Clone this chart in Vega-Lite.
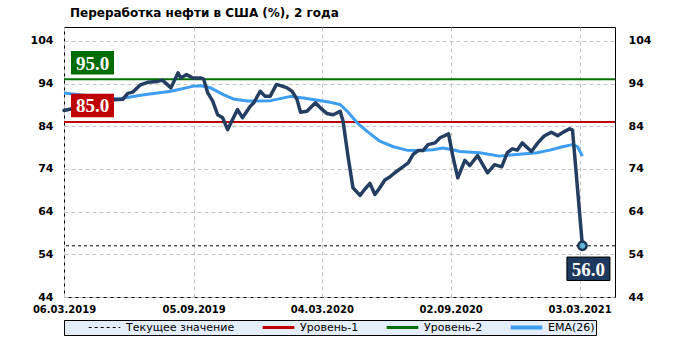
{
  "$schema": "https://vega.github.io/schema/vega-lite/v6.json",
  "width": 551,
  "height": 270,
  "autosize": {"type": "none"},
  "padding": {"left": 64, "top": 27, "right": 67, "bottom": 44},
  "background": "white",
  "title": {
    "text": "Переработка нефти в США (%), 2 года",
    "anchor": "start",
    "frame": "group",
    "dx": 6,
    "offset": 7,
    "font": "DejaVu Sans",
    "fontSize": 12,
    "fontWeight": "bold",
    "color": "black"
  },
  "datasets": {
    "main": [
      {"date": "2019-03-06", "value": 87.7},
      {"date": "2019-05-15", "value": 90.2},
      {"date": "2019-05-28", "value": 90.3},
      {"date": "2019-06-04", "value": 91.7},
      {"date": "2019-06-11", "value": 92.0},
      {"date": "2019-06-22", "value": 93.7},
      {"date": "2019-07-02", "value": 94.3},
      {"date": "2019-07-16", "value": 94.5},
      {"date": "2019-07-23", "value": 94.8},
      {"date": "2019-08-04", "value": 93.0},
      {"date": "2019-08-14", "value": 96.5},
      {"date": "2019-08-18", "value": 95.3},
      {"date": "2019-08-26", "value": 96.1},
      {"date": "2019-09-04", "value": 95.3},
      {"date": "2019-09-15", "value": 95.3},
      {"date": "2019-09-19", "value": 95.1},
      {"date": "2019-09-25", "value": 91.8},
      {"date": "2019-10-02", "value": 89.9},
      {"date": "2019-10-09", "value": 86.7},
      {"date": "2019-10-16", "value": 86.0},
      {"date": "2019-10-23", "value": 83.2},
      {"date": "2019-10-30", "value": 85.6},
      {"date": "2019-11-06", "value": 87.9},
      {"date": "2019-11-13", "value": 86.0},
      {"date": "2019-11-24", "value": 88.7},
      {"date": "2019-11-29", "value": 89.5},
      {"date": "2019-12-08", "value": 92.2},
      {"date": "2019-12-15", "value": 91.0},
      {"date": "2019-12-22", "value": 91.0},
      {"date": "2019-12-31", "value": 93.8},
      {"date": "2020-01-08", "value": 93.4},
      {"date": "2020-01-15", "value": 93.0},
      {"date": "2020-01-22", "value": 92.2},
      {"date": "2020-01-29", "value": 90.3},
      {"date": "2020-02-03", "value": 87.3},
      {"date": "2020-02-12", "value": 87.5},
      {"date": "2020-02-24", "value": 89.5},
      {"date": "2020-03-04", "value": 88.0},
      {"date": "2020-03-11", "value": 87.0},
      {"date": "2020-03-20", "value": 86.7},
      {"date": "2020-03-30", "value": 87.5},
      {"date": "2020-04-03", "value": 85.2},
      {"date": "2020-04-10", "value": 77.0},
      {"date": "2020-04-17", "value": 69.6},
      {"date": "2020-04-27", "value": 67.8},
      {"date": "2020-05-04", "value": 69.3},
      {"date": "2020-05-11", "value": 70.6},
      {"date": "2020-05-18", "value": 68.0},
      {"date": "2020-05-25", "value": 69.6},
      {"date": "2020-06-01", "value": 71.4},
      {"date": "2020-06-08", "value": 72.1},
      {"date": "2020-06-15", "value": 73.1},
      {"date": "2020-06-25", "value": 74.3},
      {"date": "2020-07-04", "value": 75.4},
      {"date": "2020-07-11", "value": 77.4},
      {"date": "2020-07-18", "value": 78.3},
      {"date": "2020-07-25", "value": 78.3},
      {"date": "2020-08-01", "value": 79.7},
      {"date": "2020-08-11", "value": 80.1},
      {"date": "2020-08-18", "value": 81.3},
      {"date": "2020-08-30", "value": 82.2},
      {"date": "2020-09-05", "value": 77.0},
      {"date": "2020-09-12", "value": 71.9},
      {"date": "2020-09-22", "value": 76.0},
      {"date": "2020-09-29", "value": 74.8},
      {"date": "2020-10-10", "value": 77.1},
      {"date": "2020-10-24", "value": 73.1},
      {"date": "2020-11-03", "value": 75.0},
      {"date": "2020-11-13", "value": 74.5},
      {"date": "2020-11-21", "value": 77.8},
      {"date": "2020-11-28", "value": 78.7},
      {"date": "2020-12-05", "value": 78.4},
      {"date": "2020-12-12", "value": 80.1},
      {"date": "2020-12-25", "value": 78.1},
      {"date": "2021-01-03", "value": 80.1},
      {"date": "2021-01-12", "value": 81.7},
      {"date": "2021-01-22", "value": 82.6},
      {"date": "2021-01-31", "value": 81.8},
      {"date": "2021-02-10", "value": 82.8},
      {"date": "2021-02-17", "value": 83.4},
      {"date": "2021-02-21", "value": 83.1},
      {"date": "2021-03-07", "value": 56.0}
    ],
    "ema": [
      {"date": "2019-03-06", "value": 91.8},
      {"date": "2019-05-21", "value": 90.4},
      {"date": "2019-06-27", "value": 91.4},
      {"date": "2019-08-04", "value": 92.2},
      {"date": "2019-09-05", "value": 93.4},
      {"date": "2019-09-15", "value": 93.5},
      {"date": "2019-09-29", "value": 93.0},
      {"date": "2019-10-17", "value": 91.4},
      {"date": "2019-10-31", "value": 90.4},
      {"date": "2019-11-20", "value": 89.9},
      {"date": "2019-12-23", "value": 90.0},
      {"date": "2020-01-20", "value": 91.0},
      {"date": "2020-02-07", "value": 90.6},
      {"date": "2020-02-27", "value": 90.1},
      {"date": "2020-03-16", "value": 89.6},
      {"date": "2020-03-30", "value": 89.1},
      {"date": "2020-04-09", "value": 87.5},
      {"date": "2020-04-23", "value": 84.8},
      {"date": "2020-05-07", "value": 82.8},
      {"date": "2020-05-25", "value": 80.5},
      {"date": "2020-06-13", "value": 79.2},
      {"date": "2020-07-02", "value": 78.4},
      {"date": "2020-07-21", "value": 78.3},
      {"date": "2020-08-08", "value": 78.5},
      {"date": "2020-08-22", "value": 78.9},
      {"date": "2020-09-05", "value": 78.5},
      {"date": "2020-09-15", "value": 78.1},
      {"date": "2020-10-13", "value": 77.8},
      {"date": "2020-11-10", "value": 77.0},
      {"date": "2020-12-04", "value": 77.4},
      {"date": "2021-01-02", "value": 77.8},
      {"date": "2021-01-20", "value": 78.4},
      {"date": "2021-02-07", "value": 79.2},
      {"date": "2021-02-21", "value": 79.7},
      {"date": "2021-02-28", "value": 79.2},
      {"date": "2021-03-07", "value": 77.0}
    ],
    "levels": [
      {"name": "Уровень-1", "value": 85},
      {"name": "Уровень-2", "value": 95}
    ],
    "current": [
      {"name": "Текущее значение", "date": "2021-03-07", "value": 56}
    ]
  },
  "layer": [
    {
      "data": {"name": "levels"},
      "mark": {"type": "rule", "strokeWidth": 2},
      "encoding": {
        "y": {"field": "value", "type": "quantitative", "scale": {"domain": [44, 107.25], "nice": false, "zero": false}, "axis": null},
        "color": {
          "field": "name",
          "type": "nominal",
          "scale": {
            "domain": ["Текущее значение", "Уровень-1", "Уровень-2", "EMA(26)"],
            "range": ["#000000", "#c00000", "#007000", "#3d9df0"]
          },
          "legend": {
            "orient": "none",
            "legendX": 0,
            "legendY": 293,
            "direction": "horizontal",
            "title": "\u00a0",
            "titleOrient": "left",
            "titlePadding": 22,
            "titleFontSize": 11,
            "padding": 1,
            "clipHeight": 13,
            "fillColor": "#e4eefb",
            "strokeColor": "black",
            "symbolType": "stroke",
            "symbolSize": 1000,
            "labelFont": "DejaVu Sans",
            "labelFontSize": 11,
            "labelColor": "black",
            "labelOffset": 4,
            "columnPadding": 26,
            "labelExpr": "datum.label == 'EMA(26)' ? 'EMA(26)\u00a0\u00a0\u00a0\u00a0\u00a0\u00a0' : datum.label",
            "encode": {
              "symbols": {
                "update": {
                  "strokeDash": {"signal": "(datum.value == 'Текущее значение' ? [3, 3] : [1, 0])"},
                  "strokeWidth": {"signal": "(datum.value == 'Текущее значение' ? 1 : (datum.value == 'EMA(26)' ? 4 : 3))"}
                }
              }
            }
          }
        }
      }
    },
    {
      "data": {"name": "current"},
      "mark": {"type": "rule", "strokeWidth": 1, "strokeDash": [3, 3]},
      "encoding": {
        "y": {"field": "value", "type": "quantitative", "axis": null},
        "color": {"field": "name", "type": "nominal"}
      }
    },
    {
      "data": {"name": "ema"},
      "mark": {"type": "line", "strokeWidth": 3, "strokeJoin": "round"},
      "encoding": {
        "x": {
          "field": "date",
          "type": "temporal",
          "scale": {"type": "utc", "domain": [1551830400000, 1619049600000]},
          "axis": {
            "values": [1551830400000, 1567641600000, 1583280000000, 1599004800000, 1614729600000],
            "labelExpr": "utcFormat(datum.value, '%d.%m.%Y')",
            "labelFlush": false,
            "labelOverlap": false,
            "title": null
          }
        },
        "y": {
          "field": "value",
          "type": "quantitative",
          "axis": {
            "orient": "right",
            "values": [44, 54, 64, 74, 84, 94, 104],
            "labelFont": "DejaVu Sans",
            "labelFontSize": 11,
            "labelFontWeight": "bold",
            "labelColor": "black",
            "labelPadding": 13,
            "ticks": false,
            "domain": false,
            "grid": false,
            "title": null
          }
        },
        "color": {"datum": "EMA(26)", "type": "nominal"}
      }
    },
    {
      "data": {"name": "main"},
      "mark": {"type": "line", "strokeWidth": 3.5, "color": "#243e62", "strokeJoin": "round", "strokeCap": "round"},
      "encoding": {
        "x": {"field": "date", "type": "temporal"},
        "y": {
          "field": "value",
          "type": "quantitative",
          "axis": {
            "orient": "left",
            "values": [44, 54, 64, 74, 84, 94, 104],
            "labelFont": "DejaVu Sans",
            "labelFontSize": 11,
            "labelFontWeight": "bold",
            "labelColor": "black",
            "labelPadding": 11,
            "ticks": false,
            "domain": false,
            "grid": true,
            "gridColor": "#c4c4c4",
            "gridDash": [4, 3],
            "title": null
          }
        }
      }
    },
    {
      "data": {"name": "current"},
      "mark": {"type": "point", "shape": "circle", "size": 70, "filled": true, "fill": "#5db6d6", "stroke": "#1b3556", "strokeWidth": 2.5, "opacity": 1},
      "encoding": {
        "x": {"field": "date", "type": "temporal"},
        "y": {"field": "value", "type": "quantitative", "axis": null}
      }
    },
    {
      "data": {"name": "levels"},
      "mark": {"type": "point", "shape": "M-1,-0.547H1V0.547H-1Z", "size": 1849, "filled": true, "opacity": 1, "strokeWidth": 0, "xOffset": 28.5, "yOffset": -16.5},
      "encoding": {
        "x": {"datum": 1551830400000, "type": "temporal"},
        "y": {"field": "value", "type": "quantitative", "axis": null},
        "fill": {"field": "name", "type": "nominal", "scale": {"domain": ["Уровень-1", "Уровень-2"], "range": ["#c00000", "#006c00"]}, "legend": null}
      }
    },
    {
      "data": {"name": "levels"},
      "mark": {"type": "text", "font": "Liberation Serif", "fontSize": 19, "fontWeight": "bold", "color": "white", "align": "center", "baseline": "middle", "dx": 28.5, "dy": -15.5},
      "encoding": {
        "x": {"datum": 1551830400000, "type": "temporal"},
        "y": {"field": "value", "type": "quantitative", "axis": null},
        "text": {"field": "value", "type": "quantitative", "format": ".1f"}
      }
    },
    {
      "data": {"name": "current"},
      "mark": {"type": "point", "shape": "M-1,-0.545H1V0.545H-1Z", "size": 1849, "filled": true, "fill": "#1d3a5e", "stroke": "black", "strokeWidth": 1, "opacity": 1, "xOffset": 6, "yOffset": 23},
      "encoding": {
        "x": {"field": "date", "type": "temporal"},
        "y": {"field": "value", "type": "quantitative", "axis": null}
      }
    },
    {
      "data": {"name": "current"},
      "mark": {"type": "text", "font": "Liberation Serif", "fontSize": 19, "fontWeight": "bold", "color": "white", "align": "center", "baseline": "middle", "dx": 6, "dy": 24},
      "encoding": {
        "x": {"field": "date", "type": "temporal"},
        "y": {"field": "value", "type": "quantitative", "axis": null},
        "text": {"field": "value", "type": "quantitative", "format": ".1f"}
      }
    }
  ],
  "resolve": {"axis": {"y": "independent"}},
  "config": {
    "view": {"stroke": "black", "strokeWidth": 1, "fill": "white"},
    "axisX": {
      "labelFont": "DejaVu Sans",
      "labelFontSize": 10,
      "labelFontWeight": "bold",
      "labelColor": "black",
      "labelPadding": 7,
      "labelExpr": "utcFormat(datum.value, '%d.%m.%Y')",
      "ticks": false,
      "domain": false,
      "grid": true,
      "gridColor": "#c4c4c4",
      "gridDash": [4, 3],
      "title": null
    }
  }
}
